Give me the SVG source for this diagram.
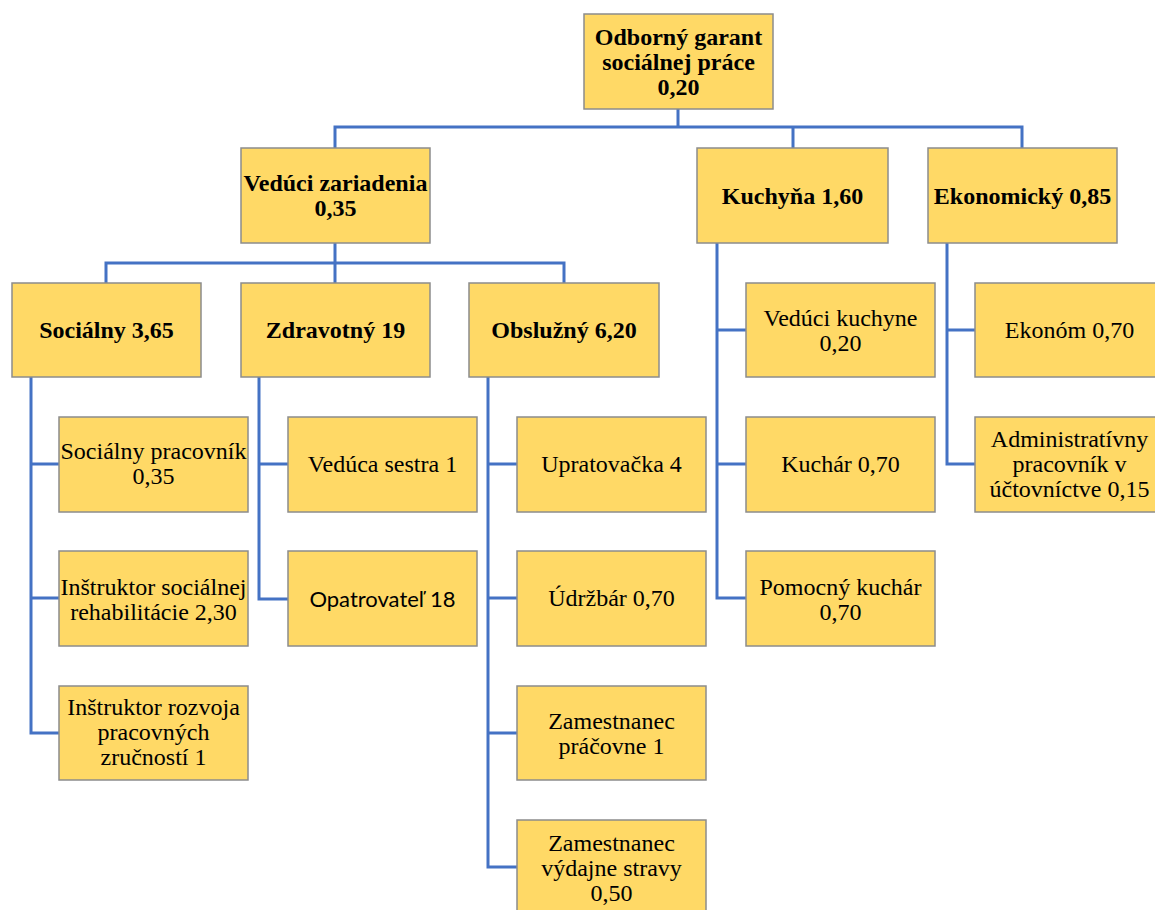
<svg xmlns="http://www.w3.org/2000/svg" width="1155" height="910" viewBox="0 0 1155 910">
<style>
.box{fill:#FFD966;stroke:#8C8C8C;stroke-width:1.5}
.b{font-family:"Liberation Serif",serif;font-weight:bold;font-size:24px;text-anchor:middle;fill:#000}
.r{font-family:"Liberation Serif",serif;font-size:24px;text-anchor:middle;fill:#000}
.s{font-family:Lato,"Liberation Sans",sans-serif;font-size:22px;text-anchor:middle;fill:#000}
.c{fill:none;stroke:#4472C4;stroke-width:3}
</style>
<rect width="1155" height="910" fill="#fff"/>
<g id="connectors" class="c">
<path d="M678 109V127M335 148V127H1022V148M793 127V148"/>
<path d="M335 243V263M106 283V263H564V283M335 263V283"/>
<path d="M31 377V733H59M31 464H59M31 598H59"/>
<path d="M259 377V599H288M259 464H288"/>
<path d="M488 377V867H517M488 464H517M488 598H517M488 733H517"/>
<path d="M717 243V598H746M717 330H746M717 464H746"/>
<path d="M947 243V464H975M947 330H975"/>
</g>
<g id="n-garant"><rect class="box" x="584" y="14" width="189" height="95"/><text class="b" x="678.5" y="45">Odborný garant</text><text class="b" x="678.5" y="70">sociálnej práce</text><text class="b" x="678.5" y="95">0,20</text></g>
<g id="n-veduci"><rect class="box" x="241" y="148" width="189" height="95"/><text class="b" x="335.5" y="191">Vedúci zariadenia</text><text class="b" x="335.5" y="216">0,35</text></g>
<g id="n-kuchyna"><rect class="box" x="697" y="148" width="191" height="95"/><text class="b" x="792.5" y="204">Kuchyňa 1,60</text></g>
<g id="n-ekonomicky"><rect class="box" x="928" y="148" width="189" height="95"/><text class="b" x="1022.5" y="204">Ekonomický 0,85</text></g>
<g id="n-socialny"><rect class="box" x="12" y="283" width="189" height="94"/><text class="b" x="106.5" y="338">Sociálny 3,65</text></g>
<g id="n-zdravotny"><rect class="box" x="241" y="283" width="189" height="94"/><text class="b" x="335.5" y="338">Zdravotný 19</text></g>
<g id="n-obsluzny"><rect class="box" x="469" y="283" width="190" height="94"/><text class="b" x="564" y="338">Obslužný 6,20</text></g>
<g id="n-socprac"><rect class="box" x="59" y="417" width="189" height="95"/><text class="r" x="153.5" y="459">Sociálny pracovník</text><text class="r" x="153.5" y="484">0,35</text></g>
<g id="n-instrsoc"><rect class="box" x="59" y="551" width="189" height="95"/><text class="r" x="153.5" y="595">Inštruktor sociálnej</text><text class="r" x="153.5" y="620">rehabilitácie 2,30</text></g>
<g id="n-instrroz"><rect class="box" x="59" y="686" width="189" height="94"/><text class="r" x="153.5" y="715">Inštruktor rozvoja</text><text class="r" x="153.5" y="740">pracovných</text><text class="r" x="153.5" y="765">zručností 1</text></g>
<g id="n-sestra"><rect class="box" x="288" y="417" width="189" height="95"/><text class="r" x="382.5" y="472">Vedúca sestra 1</text></g>
<g id="n-opatrovatel"><rect class="box" x="288" y="551" width="189" height="95"/><text class="s" x="382.5" y="607">Opatrovateľ 18</text></g>
<g id="n-upratovacka"><rect class="box" x="517" y="417" width="189" height="95"/><text class="r" x="611.5" y="472">Upratovačka 4</text></g>
<g id="n-udrzbar"><rect class="box" x="517" y="551" width="189" height="95"/><text class="r" x="611.5" y="606">Údržbár 0,70</text></g>
<g id="n-pracovna"><rect class="box" x="517" y="686" width="189" height="94"/><text class="r" x="611.5" y="729">Zamestnanec</text><text class="r" x="611.5" y="754">práčovne 1</text></g>
<g id="n-vydajna"><rect class="box" x="517" y="820" width="189" height="95"/><text class="r" x="611.5" y="851">Zamestnanec</text><text class="r" x="611.5" y="876">výdajne stravy</text><text class="r" x="611.5" y="901">0,50</text></g>
<g id="n-veducikuch"><rect class="box" x="746" y="283" width="189" height="94"/><text class="r" x="840.5" y="326">Vedúci kuchyne</text><text class="r" x="840.5" y="351">0,20</text></g>
<g id="n-kuchar"><rect class="box" x="746" y="417" width="189" height="95"/><text class="r" x="840.5" y="472">Kuchár 0,70</text></g>
<g id="n-pomkuchar"><rect class="box" x="746" y="551" width="189" height="95"/><text class="r" x="840.5" y="595">Pomocný kuchár</text><text class="r" x="840.5" y="620">0,70</text></g>
<g id="n-ekonom"><rect class="box" x="975" y="283" width="189" height="94"/><text class="r" x="1069.5" y="338">Ekonóm 0,70</text></g>
<g id="n-admin"><rect class="box" x="975" y="417" width="189" height="95"/><text class="r" x="1069.5" y="447">Administratívny</text><text class="r" x="1069.5" y="472">pracovník v</text><text class="r" x="1069.5" y="497">účtovníctve 0,15</text></g>
</svg>
